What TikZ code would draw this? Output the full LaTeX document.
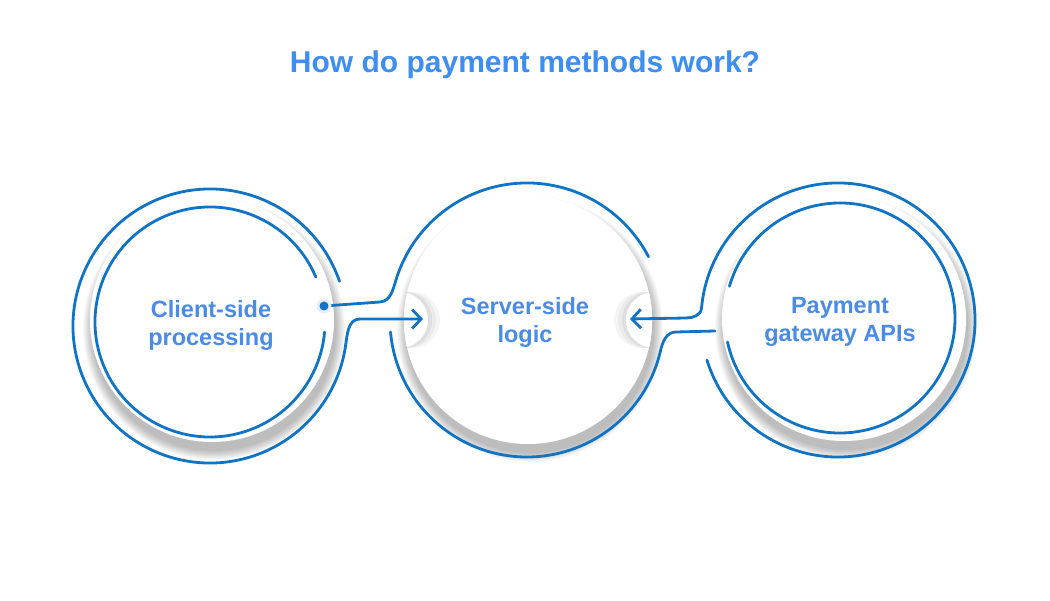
\documentclass[tikz,border=0pt]{standalone}
\usepackage{fontspec}
\setmainfont{Liberation Sans}
\usetikzlibrary{arrows.meta}
\definecolor{ring}{HTML}{1173C4}
\definecolor{lbl}{HTML}{4A8BE6}
\definecolor{ttl}{HTML}{3E8DF0}
\begin{document}
\begin{tikzpicture}[x=1pt,y=1pt,
  ringline/.style={draw=ring, line width=2.8pt, line cap=round},
  lbltext/.style={font=\fontsize{23.5}{28}\selectfont\bfseries, text=lbl, align=center},
  intoarrow/.style={-{Straight Barb[length=9pt,width=19pt,line width=2.8pt]}}
]
\useasboundingbox (0,0) rectangle (1050,600);
\fill[white] (0,0) rectangle (1050,600);

% centres
\coordinate (c1o) at (210,274);
\coordinate (c1i) at (210,278);
\coordinate (c2)  at (527,280);
\coordinate (c3o) at (838,280);
\coordinate (c3i) at (840,282);
\coordinate (dot) at (324,294);
\coordinate (tipL) at (423,281);
\coordinate (tipR) at (630,281);
\coordinate (pend) at (715,269);

% white disks with soft shadows
\foreach \cx/\cy/\r in {212/280/122, 528/280/124, 844/281/122}{
  \foreach \k in {0,...,9}
    \fill[black,opacity=0.028] (\cx+2,\cy-9) circle ({\r+9-\k});
  \fill[white] (\cx,\cy) circle (\r);
}

% notches in the middle disk
\begin{scope}
  \clip (528,280) circle (124);
  \fill[gray!8]  (412,280) circle (28);
  \fill[gray!16] (408,280) circle (28);
  \fill[gray!26] (404,280) circle (28);
  \fill[white]   (400,280) circle (28);
  \fill[gray!8]  (642,280) circle (28);
  \fill[gray!16] (646,280) circle (28);
  \fill[gray!26] (650,280) circle (28);
  \fill[white]   (654,280) circle (28);
\end{scope}

% rings and connectors
\draw[ringline] ([shift={(23:115)}]c1i) arc[start angle=23,end angle=355,radius=115];
\draw[ringline] ([shift={(-168:115)}]c3i) arc[start angle=-168,end angle=164,radius=115];

\draw[ringline] (dot) -- (380,298) to[out=5,in=253] ([shift={(163:137)}]c2)
  arc[start angle=163,end angle=27.5,radius=137];

\draw[ringline,intoarrow] ([shift={(19:137)}]c1o) arc[start angle=19,end angle=351,radius=137]
  to[out=81,in=180] (360,281) -- (tipL);

\draw[ringline] ([shift={(185:137)}]c2) arc[start angle=185,end angle=347,radius=137]
  to[out=77,in=180] (676,268) -- (pend);

\draw[ringline,intoarrow] ([shift={(-163:137)}]c3o) arc[start angle=-163,end angle=175,radius=137]
  to[out=265,in=0] (686,282) -- (tipR);

\fill[blue!8] (dot) circle (7.5);
\fill[ring] (dot) circle (4.5);

% texts
\node[font=\fontsize{30}{36}\selectfont\bfseries, text=ttl, anchor=base] (title) at (525,527) {How do payment methods work?};
\node[lbltext] (client) at (211,275) {Client-side\\processing};
\node[lbltext] (server) at (525,278) {Server-side\\logic};
\node[lbltext] (gateway) at (840,278) {Payment\\gateway APIs};
\end{tikzpicture}
\end{document}
